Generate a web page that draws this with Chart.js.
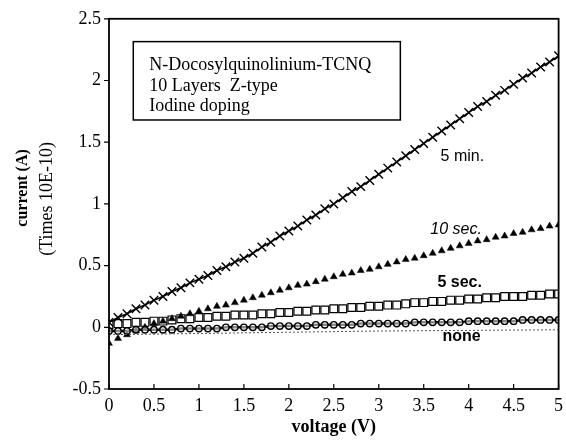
<!DOCTYPE html>
<html>
<head>
<meta charset="utf-8">
<script src="https://cdn.jsdelivr.net/npm/chart.js@4"></script>
<style>
  html, body { margin: 0; padding: 0; background: #fff; }
  #wrap { width: 566px; height: 441px; }
</style>
</head>
<body>
<div id="wrap"><canvas id="c"></canvas></div>
<script>
// voltage (V) steps
const voltage = [0, 0.1, 0.2, 0.3, 0.4, 0.5, 0.6, 0.7, 0.8, 0.9,
  1, 1.1, 1.2, 1.3, 1.4, 1.5, 1.6, 1.7, 1.8, 1.9,
  2, 2.1, 2.2, 2.3, 2.4, 2.5, 2.6, 2.7, 2.8, 2.9,
  3, 3.1, 3.2, 3.3, 3.4, 3.5, 3.6, 3.7, 3.8, 3.9,
  4, 4.1, 4.2, 4.3, 4.4, 4.5, 4.6, 4.7, 4.8, 4.9, 5];

// current (x 10^-10 A) for each doping time
const fiveMin = [0.04, 0.08, 0.11, 0.15, 0.18, 0.22, 0.25, 0.29, 0.32, 0.36,
  0.39, 0.42, 0.46, 0.49, 0.53, 0.56, 0.60, 0.65, 0.69, 0.74,
  0.78, 0.82, 0.87, 0.91, 0.96, 1.00, 1.05, 1.10, 1.14, 1.19,
  1.24, 1.29, 1.34, 1.39, 1.44, 1.49, 1.54, 1.59, 1.64, 1.69,
  1.74, 1.79, 1.83, 1.88, 1.92, 1.97, 2.02, 2.06, 2.11, 2.15, 2.20];

const tenSec = [-0.13, -0.09, -0.06, -0.03, 0.00, 0.03, 0.05, 0.07, 0.09, 0.11,
  0.13, 0.15, 0.17, 0.18, 0.20, 0.22, 0.24, 0.26, 0.28, 0.30,
  0.32, 0.34, 0.35, 0.37, 0.39, 0.41, 0.43, 0.44, 0.46, 0.47,
  0.49, 0.51, 0.53, 0.55, 0.56, 0.58, 0.60, 0.62, 0.64, 0.66,
  0.68, 0.70, 0.71, 0.73, 0.74, 0.76, 0.77, 0.79, 0.80, 0.82, 0.83];

const fiveSec = [0.02, 0.03, 0.03, 0.04, 0.04, 0.05, 0.05, 0.06, 0.07, 0.07,
  0.08, 0.08, 0.09, 0.09, 0.10, 0.10, 0.10, 0.11, 0.11, 0.12,
  0.12, 0.13, 0.13, 0.14, 0.14, 0.15, 0.15, 0.16, 0.16, 0.17,
  0.17, 0.18, 0.18, 0.19, 0.20, 0.20, 0.21, 0.21, 0.22, 0.22,
  0.23, 0.23, 0.24, 0.24, 0.25, 0.25, 0.25, 0.26, 0.26, 0.27, 0.27];

const none = [-0.03, -0.03, -0.03, -0.02, -0.02, -0.02, -0.02, -0.02, -0.01, -0.01,
  -0.01, -0.01, -0.01, 0.00, 0.00, 0.00, 0.00, 0.00, 0.01, 0.01,
  0.01, 0.01, 0.01, 0.02, 0.02, 0.02, 0.02, 0.02, 0.03, 0.03,
  0.03, 0.03, 0.03, 0.03, 0.04, 0.04, 0.04, 0.04, 0.04, 0.04,
  0.05, 0.05, 0.05, 0.05, 0.05, 0.05, 0.06, 0.06, 0.06, 0.06, 0.06];

// faint dotted trace just under the "none" band
const dottedVoltage = [0, 1, 2, 3, 4, 5];
const dottedCurrent = [-0.06, -0.05, -0.04, -0.03, -0.025, -0.02];

const xTicks = [0, 0.5, 1, 1.5, 2, 2.5, 3, 3.5, 4, 4.5, 5];
const xTickLabels = ['0', '0.5', '1', '1.5', '2', '2.5', '3', '3.5', '4', '4.5', '5'];
const yTicks = [-0.5, 0, 0.5, 1, 1.5, 2, 2.5];
const yTickLabels = ['-0.5', '0', '0.5', '1', '1.5', '2', '2.5'];

const boxLines = ['N-Docosylquinolinium-TCNQ', '10 Layers  Z-type', 'Iodine doping'];
const seriesLabels = [
  { text: '5 min.', x: 3.93, y: 1.385, font: '16px "Liberation Sans"' },
  { text: '10 sec.', x: 3.86, y: 0.79, font: 'italic 16px "Liberation Sans"' },
  { text: '5 sec.', x: 3.9, y: 0.36, font: 'bold 16px "Liberation Sans"' },
  { text: 'none', x: 3.92, y: -0.075, font: 'bold 16px "Liberation Sans"' }
];

const pts = (xs, ys) => xs.map((v, i) => ({ x: v, y: ys[i] }));
const serif = '"Liberation Serif", "DejaVu Serif", serif';

const decor = {
  id: 'decor',
  afterDraw(chart) {
    const ctx = chart.ctx;
    const a = chart.chartArea;
    const xs = chart.scales.x, ys = chart.scales.y;
    ctx.save();
    ctx.strokeStyle = '#000';
    ctx.lineWidth = 1.8;
    ctx.strokeRect(a.left, a.top, a.right - a.left, a.bottom - a.top);

    ctx.lineWidth = 1.2;
    ctx.beginPath();
    xTicks.forEach(v => {
      const px = xs.getPixelForValue(v);
      ctx.moveTo(px, a.bottom);
      ctx.lineTo(px, a.bottom - 5);
    });
    yTicks.forEach(v => {
      const py = ys.getPixelForValue(v);
      ctx.moveTo(a.left, py);
      ctx.lineTo(a.left - 5, py);
    });
    ctx.stroke();

    // info box
    const bx1 = xs.getPixelForValue(0.27), bx2 = xs.getPixelForValue(3.24);
    const by1 = ys.getPixelForValue(2.315), by2 = ys.getPixelForValue(1.68);
    ctx.lineWidth = 1.5;
    ctx.strokeRect(bx1, by1, bx2 - bx1, by2 - by1);
    ctx.fillStyle = '#000';
    ctx.font = '18px ' + serif;
    ctx.textBaseline = 'middle';
    ctx.textAlign = 'left';
    boxLines.forEach((t, i) => ctx.fillText(t, bx1 + 16, by1 + 24 + i * 20.5));

    // series labels
    ctx.textAlign = 'center';
    seriesLabels.forEach(l => {
      ctx.font = l.font;
      ctx.fillText(l.text, xs.getPixelForValue(l.x), ys.getPixelForValue(l.y));
    });

    // y axis title, two lines
    const cy = (a.top + a.bottom) / 2;
    ctx.save();
    ctx.translate(23, cy - 16);
    ctx.rotate(-Math.PI / 2);
    ctx.font = 'bold 16px ' + serif;
    ctx.fillText('current (A)', 0, 0);
    ctx.restore();
    ctx.translate(47, cy - 5);
    ctx.rotate(-Math.PI / 2);
    ctx.font = '18px ' + serif;
    ctx.fillText('(Times 10E-10)', 0, 0);
    ctx.restore();
  }
};

new Chart(document.getElementById('c'), {
  type: 'scatter',
  data: {
    datasets: [
      {
        label: 'none dotted',
        data: pts(dottedVoltage, dottedCurrent),
        showLine: true,
        borderColor: '#555',
        borderWidth: 1,
        borderDash: [2, 2],
        pointRadius: 0
      },
      {
        label: 'none',
        data: pts(voltage, none),
        showLine: true,
        borderColor: '#111',
        borderWidth: 2.5,
        pointStyle: 'circle',
        pointRadius: 3.2,
        pointBorderWidth: 1.4,
        pointBorderColor: '#000',
        pointBackgroundColor: 'rgba(255,255,255,0.5)'
      },
      {
        label: '5 sec.',
        data: pts(voltage, fiveSec),
        showLine: false,
        pointStyle: 'rect',
        pointRadius: 5.5,
        pointBorderWidth: 1.2,
        pointBorderColor: '#000',
        pointBackgroundColor: 'rgba(255,255,255,0)'
      },
      {
        label: '10 sec.',
        data: pts(voltage, tenSec),
        showLine: false,
        pointStyle: 'triangle',
        pointRadius: 4,
        pointBorderWidth: 0.5,
        pointBorderColor: '#000',
        pointBackgroundColor: '#000'
      },
      {
        label: '5 min.',
        data: pts(voltage, fiveMin),
        showLine: true,
        borderColor: '#000',
        borderWidth: 1.6,
        pointStyle: 'crossRot',
        pointRadius: 6,
        pointBorderWidth: 1.4,
        pointBorderColor: '#000'
      }
    ]
  },
  options: {
    responsive: true,
    maintainAspectRatio: false,
    animation: false,
    layout: { padding: { top: 15, right: 5, bottom: 0, left: 0 } },
    plugins: {
      legend: { display: false },
      tooltip: { enabled: false }
    },
    scales: {
      x: {
        type: 'linear',
        min: 0,
        max: 5,
        afterBuildTicks: s => { s.ticks = xTicks.map(v => ({ value: v })); },
        afterFit: s => { s.height = 52; s.paddingLeft = 0; s.paddingRight = 0; },
        grid: { display: false, drawTicks: false },
        border: { display: false },
        ticks: {
          color: '#000', padding: 6, maxRotation: 0, autoSkip: false,
          font: { family: serif, size: 18 },
          callback: (v, i) => xTickLabels[i]
        },
        title: {
          display: true,
          text: 'voltage (V)',
          color: '#000',
          padding: { top: 0, bottom: 3 },
          font: { family: serif, size: 18, weight: 'bold' }
        }
      },
      y: {
        type: 'linear',
        min: -0.5,
        max: 2.5,
        afterBuildTicks: s => { s.ticks = yTicks.map(v => ({ value: v })); },
        afterFit: s => { s.width = 109; },
        grid: { display: false, drawTicks: false },
        border: { display: false },
        ticks: {
          color: '#000', padding: 8, autoSkip: false,
          font: { family: serif, size: 18 },
          callback: (v, i) => yTickLabels[i]
        }
      }
    }
  },
  plugins: [decor]
});
</script>
</body>
</html>
